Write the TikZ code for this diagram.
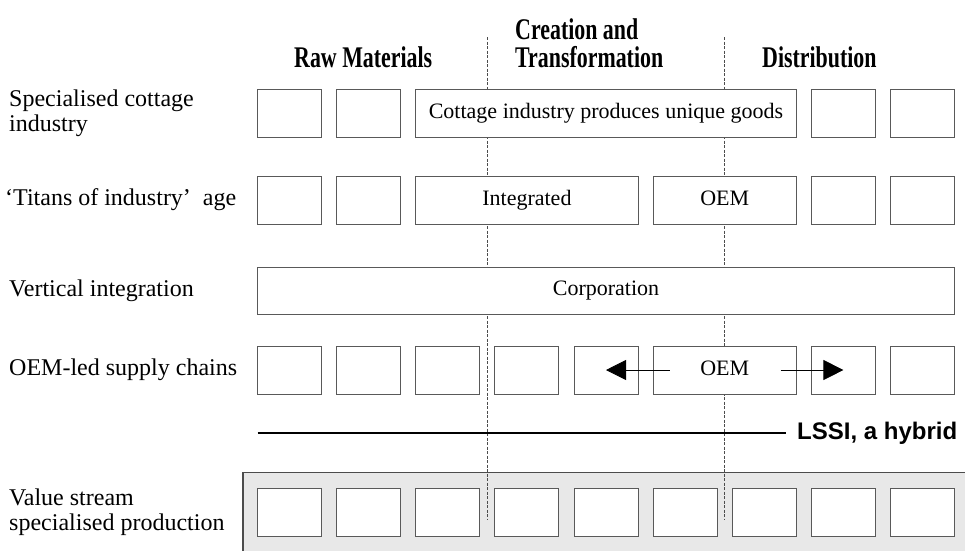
\documentclass[tikz,border=0pt]{standalone}
\usepackage{fontspec}
\setmainfont{Liberation Serif}
\newfontfamily\hybridfont{Liberation Sans}
\usepackage{graphicx}
\usetikzlibrary{arrows.meta}
\newcommand{\hd}[1]{\scalebox{0.73}[1]{#1}}

\begin{document}
\begin{tikzpicture}[>={Triangle[width=20pt,length=20pt]}, unit/.style={draw=black!65, fill=white, line width=0.9pt, minimum width=64pt, minimum height=48pt, inner sep=0pt, text height=15pt, text depth=5pt, font=\fontsize{22}{26}\selectfont}, rowlabel/.style={anchor=west, align=left, inner sep=0pt, font=\fontsize{24}{25}\selectfont}, heading/.style={inner sep=0pt, align=left, font=\fontsize{30}{28}\selectfont\bfseries}, divider/.style={dash pattern=on 3pt off 1.5pt, draw=black!70, line width=0.6pt}]
  \clip (0pt, 0pt) rectangle (965pt, -550pt);
  \fill[white] (0pt, 0pt) rectangle (965pt, -550pt);
  \draw[draw=black!70, fill=black!9, line width=1.2pt] (243pt, -472.5pt) rectangle (990pt, -580pt);

  \coordinate (d1top) at (487.5pt, -37pt);
  \coordinate (d1bot) at (487.5pt, -520pt);
  \coordinate (d2top) at (724.5pt, -37pt);
  \coordinate (d2bot) at (724.5pt, -520pt);
  \draw[divider] (d1top) -- (d1bot);
  \draw[divider] (d2top) -- (d2bot);

  \draw (294pt, -67pt)node[heading, anchor=base west](raw){\hd{Raw Materials}};
  \draw (515pt, -18.5pt)node[heading, anchor=north west](make){\hd{Creation and}\\\hd{Transformation}};
  \draw (762pt, -67pt)node[heading, anchor=base west](dist){\hd{Distribution}};

  \draw (9pt, -113pt)node[rowlabel](lab1){Specialised cottage\\industry};
  \draw (5pt, -200pt)node[rowlabel](lab2){‘Titans of industry’~ age};
  \draw (9pt, -290.5pt)node[rowlabel](lab3){Vertical integration};
  \draw (9pt, -370pt)node[rowlabel](lab4){OEM-led supply chains};
  \draw (9pt, -512pt)node[rowlabel](lab5){Value stream\\specialised production};

  \draw (289.5pt, -113pt)node[unit](r1c0){};
  \draw (368.6pt, -113pt)node[unit](r1c1){};
  \draw (606.0pt, -113pt)node[unit, minimum width=380.5pt](cottage){Cottage industry produces unique goods};
  \draw (843.4pt, -113pt)node[unit](r1c7){};
  \draw (922.5pt, -113pt)node[unit](r1c8){};

  \draw (289.5pt, -200pt)node[unit](r2c0){};
  \draw (368.6pt, -200pt)node[unit](r2c1){};
  \draw (526.9pt, -200pt)node[unit, minimum width=222.25pt](integ){Integrated};
  \draw (724.7pt, -200pt)node[unit, minimum width=143.1pt](oemA){OEM};
  \draw (843.4pt, -200pt)node[unit](r2c7){};
  \draw (922.5pt, -200pt)node[unit](r2c8){};

  \draw (606.0pt, -290.5pt)node[unit, minimum width=697pt, minimum height=47pt](corp){Corporation};

  \draw (289.5pt, -370pt)node[unit](r4c0){};
  \draw (368.6pt, -370pt)node[unit](r4c1){};
  \draw (447.75pt, -370pt)node[unit](r4c2){};
  \draw (526.9pt, -370pt)node[unit](r4c3){};
  \draw (606.0pt, -370pt)node[unit](r4c4){};
  \draw (724.7pt, -370pt)node[unit, minimum width=143.1pt](oemB){OEM};
  \draw (843.4pt, -370pt)node[unit](r4c7){};
  \draw (922.5pt, -370pt)node[unit](r4c8){};
  \draw[->, line width=0.8pt] ([xshift=17pt]oemB.west) -- (r4c4.center);
  \draw[->, line width=0.8pt] ([xshift=-16pt]oemB.east) -- (r4c7.center);

  \coordinate (lssi) at (257.5pt, -433pt);
  \draw (786pt, -433pt)node[anchor=west, inner xsep=11pt, inner ysep=0pt, font=\hybridfont\fontsize{24}{26}\selectfont\bfseries](hybrid){LSSI, a hybrid};
  \draw[line width=1.3pt] (lssi) -- (hybrid.west);

  \draw (289.5pt, -512pt)node[unit](r5c0){};
  \draw (368.6pt, -512pt)node[unit](r5c1){};
  \draw (447.75pt, -512pt)node[unit](r5c2){};
  \draw (526.9pt, -512pt)node[unit](r5c3){};
  \draw (606.0pt, -512pt)node[unit](r5c4){};
  \draw (685.1pt, -512pt)node[unit](r5c5){};
  \draw (764.25pt, -512pt)node[unit](r5c6){};
  \draw (843.4pt, -512pt)node[unit](r5c7){};
  \draw (922.5pt, -512pt)node[unit](r5c8){};
\end{tikzpicture}
\end{document}
